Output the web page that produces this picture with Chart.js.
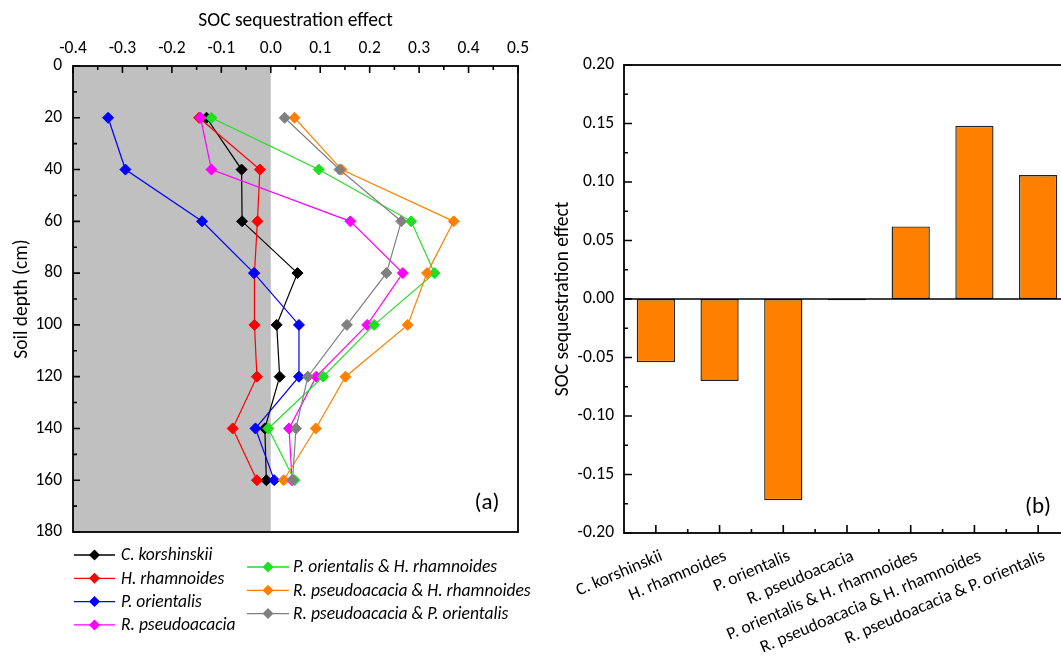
<!DOCTYPE html>
<html><head><meta charset="utf-8">
<script src="https://cdn.jsdelivr.net/npm/chart.js@4.4.1/dist/chart.umd.min.js"></script>
<style>
html,body{margin:0;padding:0;background:#fff;overflow:hidden;width:1061px;height:659px;position:relative;}
#ca{position:absolute;left:0;top:0;}
#cb{position:absolute;left:540px;top:0;}
</style></head><body>
<canvas id="ca" width="560" height="659"></canvas>
<canvas id="cb" width="540" height="659"></canvas>
<script>
// ---------- Panel (a) data ----------
const depths = [20, 40, 60, 80, 100, 120, 140, 160];
const seriesNames = ["C. korshinskii", "H. rhamnoides", "P. orientalis", "R. pseudoacacia",
  "P. orientalis & H. rhamnoides", "R. pseudoacacia & H. rhamnoides", "R. pseudoacacia & P. orientalis"];
const seriesColors = ["#000000", "#ff0000", "#0000ff", "#ff00ff", "#22dd22", "#ff8000", "#808080"];
const korshinskii = [-0.130, -0.059, -0.058, 0.054, 0.012, 0.018, -0.012, -0.009];
const rhamnoides = [-0.145, -0.022, -0.027, -0.033, -0.033, -0.028, -0.077, -0.028];
const orientalis = [-0.329, -0.294, -0.139, -0.034, 0.057, 0.057, -0.031, 0.007];
const pseudoacacia = [-0.142, -0.120, 0.161, 0.267, 0.195, 0.092, 0.037, 0.043];
const orientalisRhamnoides = [-0.120, 0.097, 0.284, 0.331, 0.209, 0.106, -0.005, 0.048];
const pseudoacaciaRhamnoides = [0.048, 0.143, 0.370, 0.316, 0.277, 0.151, 0.091, 0.026];
const pseudoacaciaOrientalis = [0.028, 0.139, 0.264, 0.234, 0.154, 0.075, 0.051, 0.044];
const seriesValues = [korshinskii, rhamnoides, orientalis, pseudoacacia,
  orientalisRhamnoides, pseudoacaciaRhamnoides, pseudoacaciaOrientalis];
const shadeRange = [-0.4, 0.0];

// ---------- Panel (b) data ----------
const categories = ["C. korshinskii", "H. rhamnoides", "P. orientalis", "R. pseudoacacia",
  "P. orientalis & H. rhamnoides", "R. pseudoacacia & H. rhamnoides", "R. pseudoacacia & P. orientalis"];
const barValues = [-0.054, -0.070, -0.172, -0.001, 0.062, 0.148, 0.106];

const FONT = "Carlito, Lato, 'Open Sans', sans-serif";
Chart.defaults.color = '#000';
Chart.defaults.font.family = FONT;

function fmt(v, d) { if (Math.abs(v) < 1e-9) v = 0; return v.toFixed(d); }

function drawDiamond(ctx, x, y, r, color) {
  ctx.beginPath();
  ctx.moveTo(x, y - r); ctx.lineTo(x + r, y); ctx.lineTo(x, y + r); ctx.lineTo(x - r, y);
  ctx.closePath(); ctx.fillStyle = color; ctx.fill();
}

function axisTicks(ctx, scale, vals, len, side, area) {
  ctx.beginPath();
  vals.forEach(v => {
    const p = scale.getPixelForValue(v);
    if (side === 'top') { ctx.moveTo(p, area.top); ctx.lineTo(p, area.top + len); }
    if (side === 'bottom') { ctx.moveTo(p, area.bottom); ctx.lineTo(p, area.bottom - len); }
    if (side === 'left') { ctx.moveTo(area.left, p); ctx.lineTo(area.left + len, p); }
  });
  ctx.stroke();
}
function majorMinor(scale) {
  const major = scale.ticks.map(t => t.value);
  const minor = [];
  for (let i = 0; i < major.length - 1; i++) minor.push((major[i] + major[i + 1]) / 2);
  return { major, minor };
}

const pluginA = {
  id: 'panelA',
  beforeDatasetsDraw(chart) {
    const { ctx, chartArea: a, scales: { x } } = chart;
    const x0 = x.getPixelForValue(shadeRange[0]), x1 = x.getPixelForValue(shadeRange[1]);
    ctx.save(); ctx.fillStyle = '#c0c0c0';
    ctx.fillRect(x0, a.top, x1 - x0, a.bottom - a.top); ctx.restore();
  },
  afterDraw(chart) {
    const { ctx, chartArea: a, scales: { x, y } } = chart;
    ctx.save();
    ctx.strokeStyle = '#000'; ctx.lineWidth = 1.8;
    ctx.strokeRect(a.left, a.top, a.right - a.left, a.bottom - a.top);
    ctx.lineWidth = 1.6;
    const mx = majorMinor(x), my = majorMinor(y);
    axisTicks(ctx, x, mx.major, 7, 'top', a);
    axisTicks(ctx, x, mx.minor, 4, 'top', a);
    axisTicks(ctx, y, my.major, 7, 'left', a);
    axisTicks(ctx, y, my.minor, 4, 'left', a);
    ctx.fillStyle = '#000'; ctx.font = '23px ' + FONT;
    ctx.textAlign = 'center'; ctx.textBaseline = 'middle';
    ctx.fillText('(a)', a.right - 31, a.bottom - 29);
    const cols = [
      { idx: [0, 1, 2, 3], lx0: a.left + 1, lx1: a.left + 42, tx: a.left + 48, y0: a.bottom + 23 },
      { idx: [4, 5, 6], lx0: a.left + 174, lx1: a.left + 216, tx: a.left + 220, y0: a.bottom + 35 }
    ];
    ctx.font = 'italic 17.5px ' + FONT; ctx.textAlign = 'left';
    cols.forEach(c => {
      c.idx.forEach((si, k) => {
        const yy = c.y0 + k * 23.3;
        ctx.strokeStyle = seriesColors[si]; ctx.lineWidth = 1.3;
        ctx.beginPath(); ctx.moveTo(c.lx0, yy); ctx.lineTo(c.lx1, yy); ctx.stroke();
        drawDiamond(ctx, (c.lx0 + c.lx1) / 2, yy, 5.5, seriesColors[si]);
        ctx.fillStyle = '#000';
        ctx.fillText(seriesNames[si], c.tx, yy + 1);
      });
    });
    ctx.restore();
  }
};

new Chart(document.getElementById('ca'), {
  type: 'scatter',
  data: {
    datasets: seriesValues.map((vals, i) => ({
      label: seriesNames[i],
      data: depths.map((d, j) => ({ x: vals[j], y: d })),
      showLine: true,
      borderColor: seriesColors[i],
      backgroundColor: seriesColors[i],
      borderWidth: 1.2,
      pointStyle: 'rectRot',
      pointRadius: 5.5,
      pointHoverRadius: 5.5,
      pointBorderWidth: 1,
      order: seriesValues.length - i
    }))
  },
  options: {
    responsive: false, animation: false, devicePixelRatio: 1,
    layout: { padding: { left: 0, top: 0, right: 42, bottom: 127 } },
    plugins: { legend: { display: false }, tooltip: { enabled: false } },
    scales: {
      x: {
        type: 'linear', position: 'top', min: -0.4, max: 0.5,
        grid: { display: false, drawTicks: false }, border: { display: false },
        ticks: { stepSize: 0.1, padding: 7, font: { size: 17.5 }, callback: v => fmt(v, 1) },
        title: { display: true, text: 'SOC sequestration effect', font: { size: 19.5 }, padding: { top: 9, bottom: 0 } },
        afterFit: s => { s.height = 66; }
      },
      y: {
        type: 'linear', reverse: true, min: 0, max: 180,
        grid: { display: false, drawTicks: false }, border: { display: false },
        ticks: { stepSize: 20, padding: 11, font: { size: 17.5 } },
        title: { display: true, text: 'Soil depth (cm)', font: { size: 19.5 }, padding: { top: 10, bottom: 0 } },
        afterFit: s => { s.width = 73; }
      }
    }
  },
  plugins: [pluginA]
});

const pluginB = {
  id: 'panelB',
  afterDraw(chart) {
    const { ctx, chartArea: a, scales: { x, y } } = chart;
    ctx.save();
    ctx.strokeStyle = '#000'; ctx.lineWidth = 1.8;
    ctx.strokeRect(a.left, a.top, a.right - a.left, a.bottom - a.top);
    const z = y.getPixelForValue(0);
    ctx.lineWidth = 1.5;
    ctx.beginPath(); ctx.moveTo(a.left, z); ctx.lineTo(a.right, z); ctx.stroke();
    ctx.lineWidth = 1.6;
    const my = majorMinor(y);
    axisTicks(ctx, y, my.major, 8, 'left', a);
    axisTicks(ctx, y, my.minor, 4, 'left', a);
    const idx = categories.map((c, i) => i);
    const bnd = [];
    for (let i = 0; i < categories.length - 1; i++) bnd.push(i + 0.5);
    axisTicks(ctx, x, idx, 8, 'bottom', a);
    axisTicks(ctx, x, bnd, 4, 'bottom', a);
    ctx.fillStyle = '#000'; ctx.font = '23px ' + FONT;
    ctx.textAlign = 'center'; ctx.textBaseline = 'middle';
    ctx.fillText('(b)', a.right - 32, a.bottom - 26);
    ctx.restore();
  }
};

new Chart(document.getElementById('cb'), {
  type: 'bar',
  data: {
    labels: categories,
    datasets: [{
      data: barValues,
      backgroundColor: '#ff8000',
      borderColor: '#222222',
      borderWidth: 1.4,
      borderSkipped: false,
      barPercentage: 0.6,
      categoryPercentage: 1
    }]
  },
  options: {
    responsive: false, animation: false, devicePixelRatio: 1,
    layout: { padding: { left: 0, top: 65, right: 10, bottom: 0 } },
    plugins: { legend: { display: false }, tooltip: { enabled: false } },
    scales: {
      x: {
        type: 'category', offset: true,
        grid: { display: false, drawTicks: false }, border: { display: false },
        ticks: { minRotation: 23, maxRotation: 23, autoSkip: false, padding: 13, labelOffset: 6, font: { size: 17.5 } },
        afterFit: s => { s.height = 126; }
      },
      y: {
        type: 'linear', min: -0.2, max: 0.2,
        grid: { display: false, drawTicks: false }, border: { display: false },
        ticks: { stepSize: 0.05, padding: 10, font: { size: 17.5 }, callback: v => fmt(v, 2) },
        title: { display: true, text: 'SOC sequestration effect', font: { size: 19.5 }, padding: { top: 11, bottom: 0 } },
        afterFit: s => { s.width = 84; }
      }
    }
  },
  plugins: [pluginB]
});
</script>
</body></html>
